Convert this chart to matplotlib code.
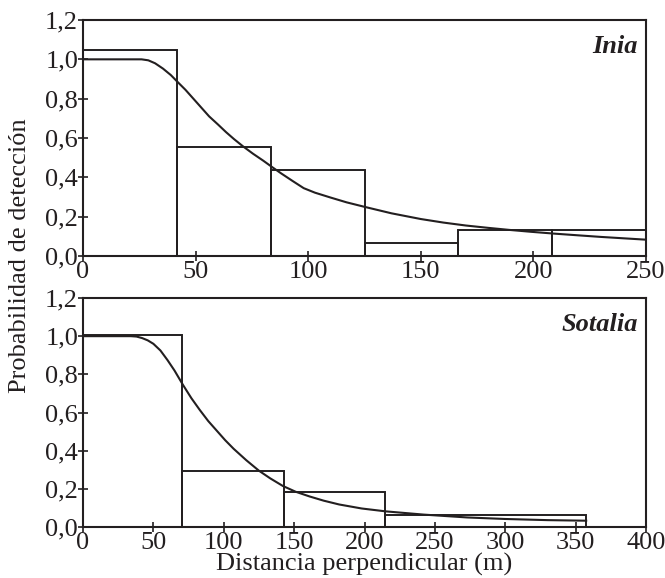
import matplotlib
matplotlib.use("Agg")
import matplotlib.pyplot as plt

# ---- data ----
y_ticks = [0.0, 0.2, 0.4, 0.6, 0.8, 1.0, 1.2]
y_ticklabels = ["0,0", "0,2", "0,4", "0,6", "0,8", "1,0", "1,2"]

inia_xticks = [0, 50, 100, 150, 200, 250]
inia_bin_edges = [0, 41.7, 83.3, 125, 166.7, 208.3, 250]
inia_heights = [1.045, 0.553, 0.437, 0.065, 0.132, 0.132]
inia_curve_x = [0, 26, 29, 32, 35.5, 39, 42, 45.5, 49, 52.5, 56, 60, 63.5, 67, 71, 75.5, 80, 84, 88,
                93, 98, 103, 110, 117, 125, 137, 150, 160, 170, 180, 189, 199, 209, 220, 230, 240, 250]
inia_curve_y = [1.0, 1.0, 0.995, 0.98, 0.953, 0.92, 0.885, 0.845, 0.80, 0.755, 0.71, 0.668, 0.63,
                0.595, 0.558, 0.52, 0.485, 0.452, 0.42, 0.382, 0.345, 0.322, 0.297, 0.273, 0.25,
                0.217, 0.188, 0.17, 0.155, 0.143, 0.133, 0.123, 0.114, 0.105, 0.097, 0.09, 0.083]

sotalia_xticks = [0, 50, 100, 150, 200, 250, 300, 350, 400]
sotalia_bin_edges = [0, 70.5, 142.5, 214.5, 357.5]
sotalia_heights = [1.005, 0.295, 0.185, 0.062]
sotalia_curve_x = [0, 20, 34, 38, 42, 46, 50, 55, 60, 65, 71, 77, 83, 89, 95, 101, 107, 116, 125, 133,
                   142, 151, 161, 171, 182, 198, 215, 242, 273, 300, 330, 357.5]
sotalia_curve_y = [1.0, 1.0, 1.0, 0.998, 0.99, 0.978, 0.96, 0.925, 0.875, 0.82, 0.745, 0.675, 0.613,
                   0.555, 0.505, 0.455, 0.41, 0.35, 0.295, 0.255, 0.215, 0.185, 0.16, 0.138, 0.118,
                   0.097, 0.082, 0.065, 0.05, 0.042, 0.036, 0.033]

plt.rcParams['font.family'] = ['Liberation Serif', 'DejaVu Serif']
FS = 19
LC = '#231f20'

fig = plt.figure(figsize=(6.65, 5.78), dpi=100)
W, H = 665, 578
L, R = 83, 646
ax1 = fig.add_axes([L / W, 1 - 256 / H, (R - L) / W, (256 - 20) / H])
ax2 = fig.add_axes([L / W, 1 - 527 / H, (R - L) / W, (527 - 298) / H])


def panel(ax, edges, heights, cx, cy, xticks, xmax, name):
    lefts = edges[:-1]
    widths = [edges[i + 1] - edges[i] for i in range(len(edges) - 1)]
    ax.bar(lefts, heights, width=widths, align='edge', fill=False, edgecolor=LC, linewidth=1.4)
    ax.plot(cx, cy, color=LC, linewidth=1.5)
    ax.set_xlim(0, xmax)
    ax.set_ylim(0, 1.2)
    ax.set_yticks(y_ticks)
    ax.set_yticklabels(y_ticklabels)
    ax.set_xticks(xticks)
    ax.set_xticklabels([str(t) for t in xticks])
    ax.tick_params(direction='inout', length=7, width=1.2, labelsize=FS, colors=LC, pad=0)
    for s in ax.spines.values():
        s.set_linewidth(1.5)
        s.set_color(LC)
    ax.text(0.985, 0.935, name, transform=ax.transAxes, ha='right', va='top',
            fontsize=FS, fontstyle='italic', fontweight='bold', color=LC)


panel(ax1, inia_bin_edges, inia_heights, inia_curve_x, inia_curve_y, inia_xticks, 250, 'Inia')
panel(ax2, sotalia_bin_edges, sotalia_heights, sotalia_curve_x, sotalia_curve_y, sotalia_xticks, 400, 'Sotalia')

fig.text(20 / W, 1 - 256 / H, 'Probabilidad de detección', rotation=90, ha='center', va='center',
         fontsize=FS, color=LC)
fig.text((L + R) / 2 / W, 2 / H, 'Distancia perpendicular (m)', ha='center', va='bottom',
         fontsize=FS, color=LC)

fig.savefig('out.png', dpi=100)
